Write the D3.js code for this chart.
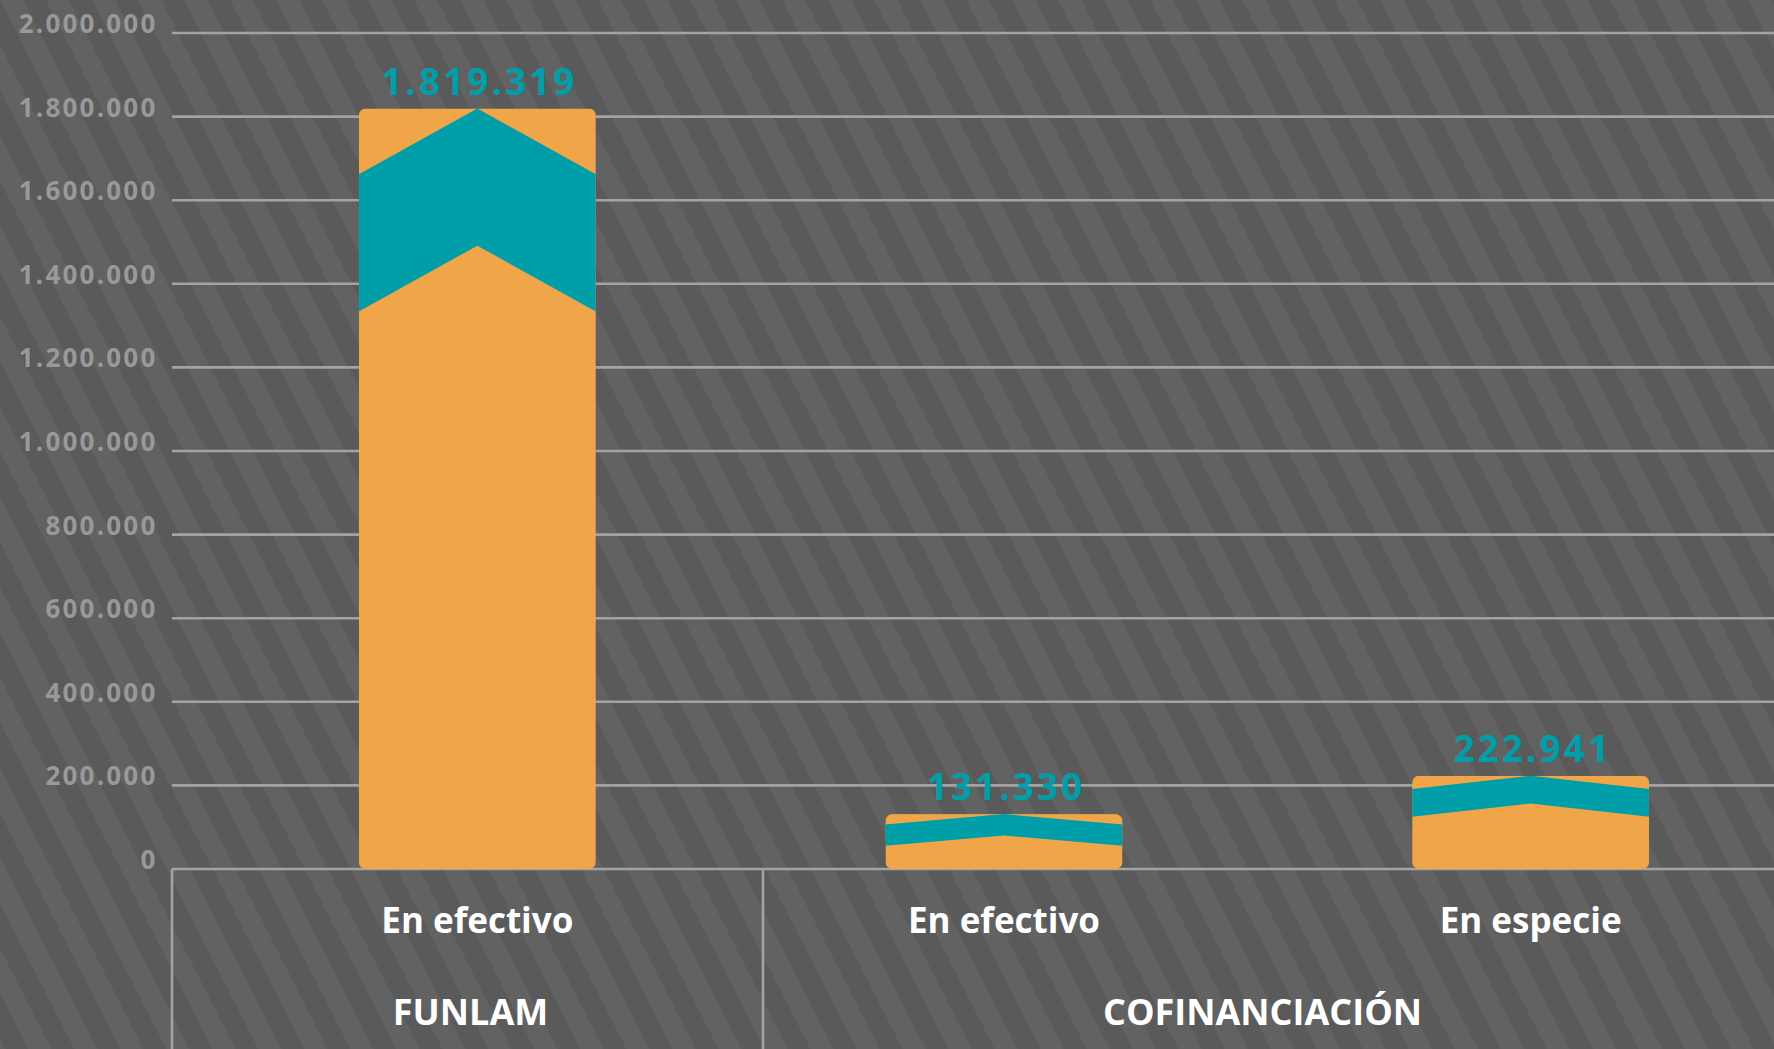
<!DOCTYPE html>
<html>
<head>
<meta charset="utf-8">
<script src="https://cdn.jsdelivr.net/npm/d3@7"></script>
<style>
  html, body { margin: 0; padding: 0; background: #5a5a5a; }
  svg { display: block; }
  text { font-family: "Open Sans", "DejaVu Sans", sans-serif; font-weight: 700; }
</style>
</head>
<body>
<svg id="chart" width="1774" height="1049"></svg>
<script>
// Aportes por fuente de financiación
const categories = ["En efectivo", "En efectivo", "En especie"];
const groupNames = ["FUNLAM", "COFINANCIACIÓN"];
const groupOfBar = [0, 1, 1];
const values = [1819319, 131330, 222941];
const yTicks = [0, 200000, 400000, 600000, 800000, 1000000, 1200000, 1400000, 1600000, 1800000, 2000000];

const W = 1774, H = 1049;
const plotLeft = 172, plotRight = W, baseY = 869, topY = 33;
const groupSplitX = 763;

const esLocale = d3.formatLocale({ decimal: ",", thousands: ".", grouping: [3], currency: ["$", ""] });
const fmt = esLocale.format(",d");

const svg = d3.select("#chart");
const defs = svg.append("defs");

// diagonal striped background
const pat = defs.append("pattern")
  .attr("id", "stripes")
  .attr("patternUnits", "userSpaceOnUse")
  .attr("width", 41).attr("height", 41)
  .attr("patternTransform", "rotate(-27)");
pat.append("rect").attr("width", 41).attr("height", 41).attr("fill", "#5a5a5a");
pat.append("rect").attr("width", 20.5).attr("height", 41).attr("fill", "#626262");
svg.append("rect").attr("width", W).attr("height", H).attr("fill", "url(#stripes)");

const y = d3.scaleLinear().domain([0, 2000000]).range([baseY, topY]);
const x = d3.scalePoint().domain(d3.range(categories.length)).range([214, 1794]).padding(0.5);
const barW = x.step() * 0.45;

// gridlines and tick labels
const grid = svg.append("g");
grid.selectAll("line").data(yTicks).join("line")
  .attr("x1", plotLeft).attr("x2", plotRight)
  .attr("y1", d => y(d)).attr("y2", d => y(d))
  .attr("stroke", "#a3a3a3").attr("stroke-width", 2.6);
grid.selectAll("text").data(yTicks).join("text")
  .attr("x", 157.5).attr("y", d => y(d))
  .attr("text-anchor", "end")
  .attr("fill", "#999999")
  .attr("font-size", 26)
  .attr("letter-spacing", 2.2)
  .text(d => fmt(d));

// category separators below the baseline
svg.append("g").selectAll("line").data([plotLeft, groupSplitX]).join("line")
  .attr("x1", d => d).attr("x2", d => d)
  .attr("y1", baseY).attr("y2", H)
  .attr("stroke", "#a3a3a3").attr("stroke-width", 2.6);

// bars with chevron band
const bars = svg.append("g");
values.forEach((v, i) => {
  const cx = x(i), x0 = cx - barW / 2, x1 = cx + barW / 2;
  const top = y(v), h = baseY - top;
  const clipId = "clip" + i;
  defs.append("clipPath").attr("id", clipId)
    .append("rect").attr("x", x0).attr("y", top).attr("width", barW).attr("height", h)
    .attr("rx", 7).attr("ry", 7);
  const g = bars.append("g").attr("clip-path", `url(#${clipId})`);
  g.append("rect").attr("x", x0).attr("y", top).attr("width", barW).attr("height", h)
    .attr("fill", "#efa548");
  const band = 12.4 + 0.164 * h;
  const drop = band * 0.48;
  const pts = [
    [x0, top + drop], [cx, top], [x1, top + drop],
    [x1, top + drop + band], [cx, top + band], [x0, top + drop + band]
  ];
  g.append("path").attr("d", d3.line()(pts) + "Z").attr("fill", "#009ea8");
});

// value labels
svg.append("g").selectAll("text").data(values).join("text")
  .attr("x", (d, i) => x(i) + 2)
  .attr("y", d => y(d) - 14)
  .attr("text-anchor", "middle")
  .attr("fill", "#009ea8")
  .attr("font-size", 37)
  .attr("letter-spacing", 3)
  .text(d => fmt(d));

// category labels
svg.append("g").selectAll("text").data(categories).join("text")
  .attr("x", (d, i) => x(i))
  .attr("y", 933)
  .attr("text-anchor", "middle")
  .attr("fill", "#ffffff")
  .attr("font-size", 35)
  .text(d => d);

// group labels centred under their section
const groupSpans = [[plotLeft, groupSplitX], [groupSplitX, plotRight]];
svg.append("g").selectAll("text").data(groupNames).join("text")
  .attr("x", (d, i) => (groupSpans[i][0] + groupSpans[i][1]) / 2 + (i === 0 ? 3 : -6))
  .attr("y", 1025)
  .attr("text-anchor", "middle")
  .attr("fill", "#ffffff")
  .attr("font-size", 36)
  .text(d => d);
</script>
</body>
</html>
